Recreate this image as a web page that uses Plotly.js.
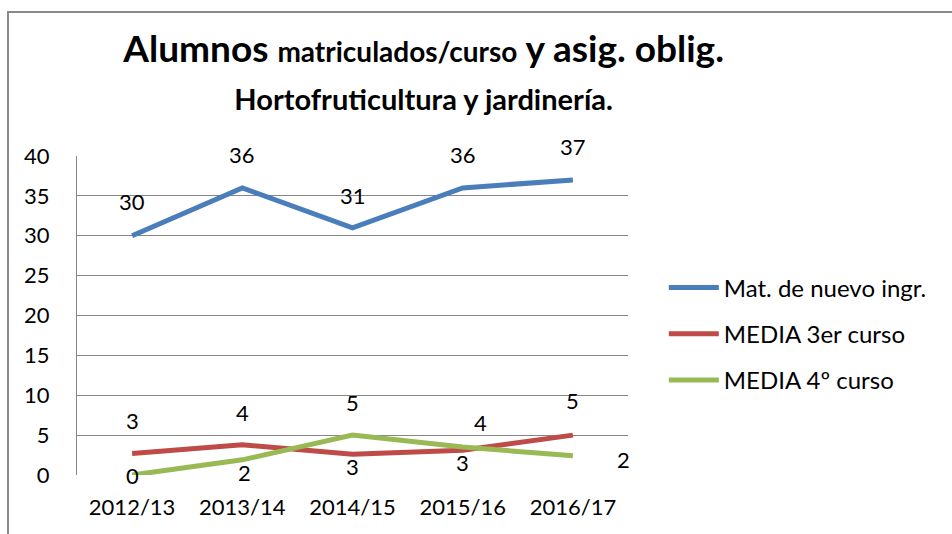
<!DOCTYPE html>
<html>
<head>
<meta charset="utf-8">
<script src="https://cdn.plot.ly/plotly-3.0.1.min.js"></script>
<style>
html,body{margin:0;padding:0;background:#fff;}
#wrap{position:relative;width:952px;height:534px;overflow:hidden;}
#chart{width:952px;height:534px;}
#frame{position:absolute;left:7px;top:11px;width:960px;height:540px;border-left:2px solid #898989;border-top:2px solid #898989;pointer-events:none;z-index:10;}
</style>
</head>
<body>
<div id="wrap">
<div id="chart"></div>
<div id="frame"></div>
</div>
<script>
// ---- data ----
const categories = ["2012/13", "2013/14", "2014/15", "2015/16", "2016/17"];
const seriesNames = ["Mat. de nuevo ingr.", "MEDIA 3er curso", "MEDIA 4º curso"];
const nuevoIngreso = [30, 36, 31, 36, 37];
const media3 = [2.7, 3.8, 2.6, 3.1, 5.0];
const media4 = [0, 1.9, 5.0, 3.5, 2.4];
const yTicks = [0, 5, 10, 15, 20, 25, 30, 35, 40];

// ---- styling ----
const FONT = "Lato, 'Open Sans', sans-serif";
const colors = ["#4a7ebb", "#be4b48", "#98b954"];
// label offsets (px) per series/point
const labelShift = [
  [[0,34],[0,33],[0,32],[0,33],[0,33]],
  [[0,33],[0,32],[0,-12],[0,-12],[0,35]],
  [[0,0],[2,-13],[0,33],[18,25],[51,-4]]
];
const allSeries = [nuevoIngreso, media3, media4];

const traces = allSeries.map((vals, i) => ({
  type: "scatter", mode: "lines", x: categories, y: vals, name: seriesNames[i],
  legendgroup: "g" + i,
  line: {color: colors[i], width: 5}, hoverinfo: "skip"
}));

const annotations = [];
allSeries.forEach((vals, i) => {
  vals.forEach((v, j) => {
    annotations.push({
      x: categories[j], y: v, xref: "x", yref: "y",
      text: String(Math.round(v)), showarrow: false,
      xshift: labelShift[i][j][0], yshift: labelShift[i][j][1],
      font: {family: FONT, size: 22, color: "#000"}
    });
  });
});

// chart-area border (pixel -> paper conversion done from margins)
const plotW = 952 - 77 - 324, plotH = 534 - 156 - 59;
const fx = px => (px - 77) / plotW;
const fy = py => (534 - 59 - py) / plotH;

const layout = {
  width: 952, height: 534,
  margin: {l: 77, r: 324, t: 156, b: 59},
  paper_bgcolor: "#fff", plot_bgcolor: "#fff",
  font: {family: FONT, size: 22, color: "#000"},
  title: {
    text: "<b>Alumnos <span style='font-size:28px'>matriculados/curso</span> y asig. oblig.</b><br><b><span style='font-size:29px'>Hortofruticultura y jardinería.</span></b>",
    font: {family: FONT, size: 37, color: "#000"},
    xref: "container", yref: "container", x: 0.445, xanchor: "center",
    y: 1 - 62/534, yanchor: "middle"
  },
  xaxis: {
    type: "category", range: [-0.5, 4.5], showgrid: false, zeroline: false,
    showline: false, ticks: "", ticklabelstandoff: 17,
    tickfont: {family: FONT, size: 22, color: "#000"}, fixedrange: true
  },
  yaxis: {
    range: [0, 40], tickvals: yTicks, ticktext: yTicks.map(String),
    showgrid: true, gridcolor: "#868686", gridwidth: 1, zeroline: false,
    showline: true, linecolor: "#868686", linewidth: 1, ticks: "",
    ticklabelstandoff: 22,
    tickfont: {family: FONT, size: 22, color: "#000"}, fixedrange: true
  },
  showlegend: true,
  legend: {
    x: 1.065, y: 0.442, xanchor: "left", yanchor: "middle",
    font: {family: FONT, size: 24, color: "#000"},
    itemwidth: 50,
    tracegroupgap: 12, traceorder: "grouped", bgcolor: "rgba(0,0,0,0)"
  },
  annotations: annotations,
  shapes: [
    {type: "rect", xref: "paper", yref: "paper", x0: fx(7), x1: fx(960), y0: fy(13), y1: fy(11),
     fillcolor: "#898989", line: {width: 0}, layer: "above"}
  ]
};

Plotly.newPlot("chart", traces, layout, {staticPlot: true, displayModeBar: false});
</script>
</body>
</html>
